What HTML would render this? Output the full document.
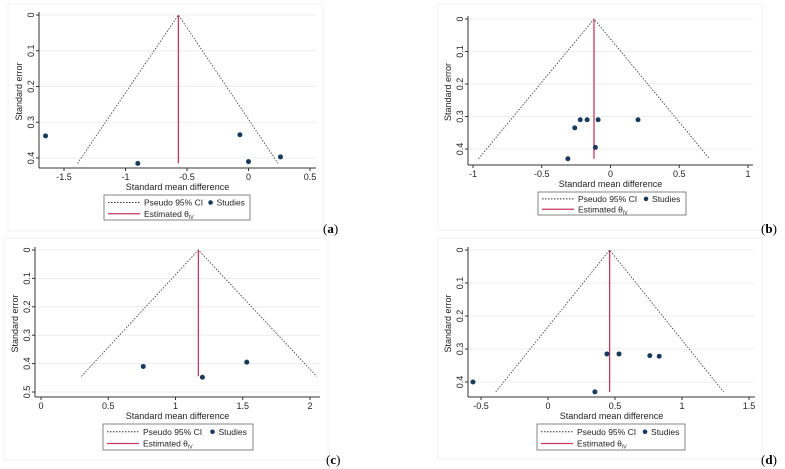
<!DOCTYPE html>
<html><head><meta charset="utf-8"><style>
body{margin:0;background:#fff;width:785px;height:469px;overflow:hidden;font-family:"Liberation Sans",sans-serif}
svg{position:absolute;left:0;top:0}
</style></head><body>
<svg id="c" width="785" height="469" xmlns="http://www.w3.org/2000/svg"></svg>
<script>
// Panel (a)
const aXTicks=[-1.5,-1,-0.5,0,0.5];
const aYTicks=[0,0.1,0.2,0.3,0.4];
const aStudyX=[-1.65,-0.9,-0.07,0,0.26];
const aStudySE=[0.338,0.415,0.335,0.41,0.397];
const aTheta=-0.57, aSEmax=0.415, aLo=-1.39, aHi=0.24;
// Panel (b)
const bXTicks=[-1,-0.5,0,0.5,1];
const bYTicks=[0,0.1,0.2,0.3,0.4];
const bStudyX=[-0.22,-0.17,-0.09,0.2,-0.26,-0.11,-0.31];
const bStudySE=[0.31,0.31,0.31,0.31,0.335,0.395,0.43];
const bTheta=-0.12, bSEmax=0.43, bLo=-0.96, bHi=0.72;
// Panel (c)
const cXTicks=[0,0.5,1,1.5,2];
const cYTicks=[0,0.1,0.2,0.3,0.4,0.5];
const cStudyX=[0.76,1.2,1.53];
const cStudySE=[0.41,0.448,0.395];
const cTheta=1.17, cSEmax=0.445, cLo=0.3, cHi=2.05;
// Panel (d)
const dXTicks=[-0.5,0,0.5,1,1.5];
const dYTicks=[0,0.1,0.2,0.3,0.4];
const dStudyX=[-0.56,0.35,0.44,0.53,0.76,0.83];
const dStudySE=[0.4,0.43,0.315,0.315,0.32,0.322];
const dTheta=0.46, dSEmax=0.43, dLo=-0.39, dHi=1.31;

const NS="http://www.w3.org/2000/svg";
const svg=document.getElementById('c');
function mk(tag,attrs,parent,text){const e=document.createElementNS(NS,tag);for(const k in attrs)e.setAttribute(k,attrs[k]);if(text!==undefined)e.textContent=text;(parent||svg).appendChild(e);return e;}

function panel(id,xT,yT,sx,sse,theta,semax,lo,hi,g){
  const X=v=>g.x0+(v-g.xv0)*(g.x1-g.x0)/(g.xv1-g.xv0);
  const Y=v=>g.y0+(v-g.yv0)*(g.y1-g.y0)/(g.yv1-g.yv0);
  const grp=mk('g',{});
  
  
  const fr=mk('rect',{x:g.fx0,y:g.fy0,width:g.fx1-g.fx0,height:g.fy1-g.fy0,fill:'none',stroke:'#eef0f3','stroke-width':1},grp);
  
  
  yT.forEach(t=>{
    const gl=mk('line',{x1:g.ax,x2:g.gr,y1:Y(t),y2:Y(t),stroke:'#eaeef2','stroke-width':1},grp);
    
    
    mk('line',{x1:g.ax-3,x2:g.ax,y1:Y(t),y2:Y(t),stroke:'#333'},grp);
    const tl=mk('text',{x:0,y:0,transform:`translate(${g.ax-5},${Y(t)}) rotate(-90)`,'text-anchor':'middle','font-size':9,fill:'#222'},grp,String(t));
    
    
  });
  mk('line',{x1:g.ax,x2:g.ax,y1:Y(yT[0])-3,y2:g.xa,stroke:'#333'},grp);
  mk('line',{x1:g.ax,x2:g.gr,y1:g.xa,y2:g.xa,stroke:'#333'},grp);
  xT.forEach(t=>{
    mk('line',{x1:X(t),x2:X(t),y1:g.xa,y2:g.xa+3,stroke:'#333'},grp);
    const tl=mk('text',{x:X(t),y:g.xa+12,'text-anchor':'middle','font-size':9,fill:'#222'},grp,String(t));
    
    
  });
  const yt=mk('text',{x:0,y:0,transform:`translate(${g.ax-17},${(Y(0)+g.xa)/2}) rotate(-90)`,'text-anchor':'middle','font-size':9,fill:'#222'},grp,'Standard error');
  
  
  const xt=mk('text',{x:(g.ax+g.gr)/2,y:g.xa+22,'text-anchor':'middle','font-size':9,fill:'#222'},grp,'Standard mean difference');
  
  
  const f=mk('polyline',{points:`${X(lo)},${Y(semax)} ${X(theta)},${Y(0)} ${X(hi)},${Y(semax)}`,fill:'none',stroke:'#333','stroke-width':0.8,'stroke-dasharray':'1.5,1.5'},grp);
  
  
  const r=mk('line',{x1:X(theta),x2:X(theta),y1:Y(0),y2:Y(semax),stroke:'#c8385f','stroke-width':1.3},grp);
  
  
  sx.forEach((v,i)=>{
    const p=mk('circle',{cx:X(v),cy:Y(sse[i]),r:2.5,fill:'#1a3a5c'},grp);
    
    
  });
  const L=g.leg;
  const lg=mk('g',{},grp);
  
  
  mk('rect',{x:L[0],y:L[1],width:L[2]-L[0],height:L[3]-L[1],fill:'#fff',stroke:'#666','stroke-width':0.8},lg);
  const h=(L[3]-L[1]);
  mk('line',{x1:L[0]+4,x2:L[0]+36,y1:L[1]+h*0.3,y2:L[1]+h*0.3,stroke:'#333','stroke-dasharray':'1.5,1.5'},lg);
  mk('text',{x:L[0]+40,y:L[1]+h*0.3+3,'font-size':8.5,fill:'#222'},lg,'Pseudo 95% CI');
  mk('circle',{cx:L[0]+(L[2]-L[0])*0.73,cy:L[1]+h*0.3,r:2.3,fill:'#1a3a5c'},lg);
  mk('text',{x:L[0]+(L[2]-L[0])*0.73+6,y:L[1]+h*0.3+3,'font-size':8.5,fill:'#222'},lg,'Studies');
  mk('line',{x1:L[0]+4,x2:L[0]+36,y1:L[1]+h*0.75,y2:L[1]+h*0.75,stroke:'#c8385f','stroke-width':1.2},lg);
  const et=mk('text',{x:L[0]+40,y:L[1]+h*0.75+3,'font-size':8.5,fill:'#222'},lg,'Estimated θ');
  mk('tspan',{'font-size':5,dy:2},et,'IV');
  const lab=mk('text',{x:g.lab[0],y:g.lab[1],'font-family':'Liberation Serif,serif','font-size':13,fill:'#000'},grp);
  mk('tspan',{},lab,'(');
  mk('tspan',{'font-weight':'bold'},lab,id);
  mk('tspan',{},lab,')');
  
  
}
panel('a',aXTicks,aYTicks,aStudyX,aStudySE,aTheta,aSEmax,aLo,aHi,
 {x0:64,xv0:-1.5,x1:310,xv1:0.5,y0:15,yv0:0,y1:158,yv1:0.4,ax:39,gr:316,xa:168,fx0:8,fy0:4,fx1:323,fy1:231,leg:[104,195,250,220],lab:[323,233]});
panel('b',bXTicks,bYTicks,bStudyX,bStudySE,bTheta,bSEmax,bLo,bHi,
 {x0:473,xv0:-1,x1:748,xv1:1,y0:19,yv0:0,y1:149,yv1:0.4,ax:468,gr:753,xa:165,fx0:438,fy0:4,fx1:762,fy1:230,leg:[538,192,686,215],lab:[761,233]});
panel('c',cXTicks,cYTicks,cStudyX,cStudySE,cTheta,cSEmax,cLo,cHi,
 {x0:41,xv0:0,x1:310,xv1:2,y0:250,yv0:0,y1:392,yv1:0.5,ax:35,gr:320,xa:397,fx0:4,fy0:238,fx1:328,fy1:460,leg:[103,424,253,450],lab:[326,464]});
panel('d',dXTicks,dYTicks,dStudyX,dStudySE,dTheta,dSEmax,dLo,dHi,
 {x0:481,xv0:-0.5,x1:749,xv1:1.5,y0:250,yv0:0,y1:382,yv1:0.4,ax:468,gr:755,xa:397,fx0:438,fy0:238,fx1:762,fy1:459,leg:[537,424,685,450],lab:[761,464]});
</script>
</body></html>
